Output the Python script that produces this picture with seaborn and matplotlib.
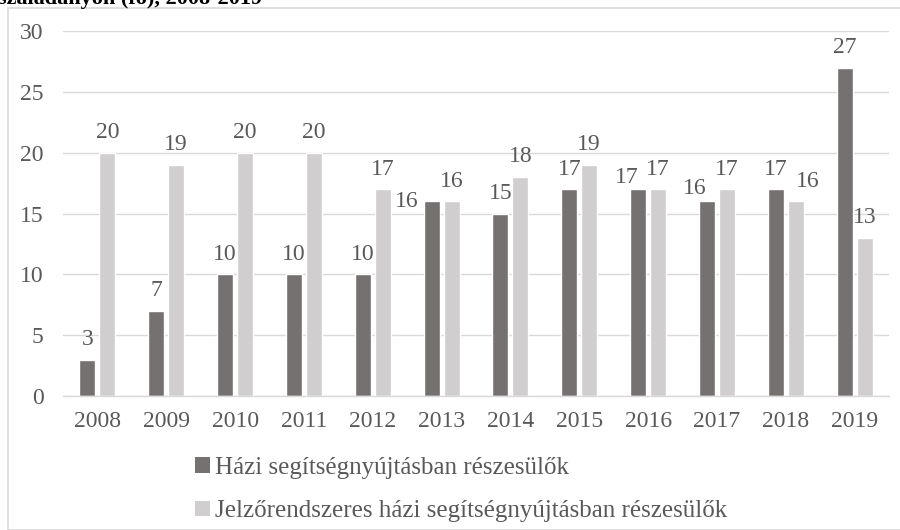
import matplotlib
matplotlib.use("Agg")
import matplotlib.pyplot as plt
from matplotlib.patches import Rectangle, Patch
import seaborn as sns
import pandas as pd

years = ["2008", "2009", "2010", "2011", "2012", "2013", "2014", "2015", "2016", "2017", "2018", "2019"]
hazi = [3, 7, 10, 10, 10, 16, 15, 17, 17, 16, 17, 27]
jelzo = [20, 19, 20, 20, 17, 16, 18, 19, 17, 17, 16, 13]
series = ["Házi segítségnyújtásban részesülők", "Jelzőrendszeres házi segítségnyújtásban részesülők"]
title_text = "szaladanyon (fő), 2008-2019"

df = pd.DataFrame({
    "year": years * 2,
    "value": hazi + jelzo,
    "series": [series[0]] * len(years) + [series[1]] * len(years),
})

sns.set_theme(style="white")
plt.rcParams["font.family"] = ["Liberation Serif", "DejaVu Serif"]

colors = ["#767171", "#D0CECE"]
text_color = "#595959"
grid_color = "#D9D9D9"
fs = 17

fig = plt.figure(figsize=(9, 5.3), dpi=100)
ax = fig.add_axes([63 / 900, 1 - 396 / 530, 826 / 900, 365 / 530])

sns.barplot(data=df, x="year", y="value", hue="series", palette=colors,
            width=0.58, gap=0.2, ax=ax, legend=False, saturation=1)

ax.set_ylim(0, 30)
ax.set_yticks(range(0, 31, 5))
ax.set_xlabel("")
ax.set_ylabel("")
ax.yaxis.grid(True, color=grid_color, linewidth=1)
ax.set_axisbelow(True)
for s in ["top", "right", "left"]:
    ax.spines[s].set_visible(False)
ax.spines["bottom"].set_color(grid_color)
ax.spines["bottom"].set_linewidth(1)
ax.tick_params(axis="both", length=0, labelsize=fs, colors=text_color)
ax.tick_params(axis="x", pad=11)
ax.tick_params(axis="y", pad=14)

# data labels with Excel-like placement adjustments (offsets in points)
special = {
    (0, 5): (-18, 0),
    (0, 8): (-8.5, 8.5),
    (0, 9): (-8.5, 9.5),
    (1, 10): (8.5, 14.4),
}
for si, cont in enumerate(ax.containers):
    vals = hazi if si == 0 else jelzo
    for i, bar in enumerate(cont):
        dx, dy = special.get((si, i), (0, 14.4))
        ax.annotate(str(vals[i]),
                    (bar.get_x() + bar.get_width() / 2, bar.get_height()),
                    xytext=(dx, dy), textcoords="offset points",
                    ha="center", va="center", fontsize=fs, color=text_color)

# chart border
fig.patches.append(Rectangle((8 / 900, 0), 1, 1 - 8 / 530, transform=fig.transFigure,
                             fill=False, edgecolor=grid_color, linewidth=1.2))

# partially visible title at the top
fig.text(-2 / 900, 1 - 4 / 530, title_text, ha="left", va="baseline",
         fontsize=16, fontweight="bold", color="#000000")

handles = [Patch(facecolor=c, edgecolor="none") for c in colors]
fig.legend(handles, series, loc="upper left", bbox_to_anchor=(195 / 900, 1 - 457 / 530),
           frameon=False, fontsize=18, labelcolor=text_color,
           handlelength=0.6, handleheight=0.6, handletextpad=0.2, labelspacing=0.85,
           borderpad=0, borderaxespad=0)

fig.savefig("out.png", dpi=100)
